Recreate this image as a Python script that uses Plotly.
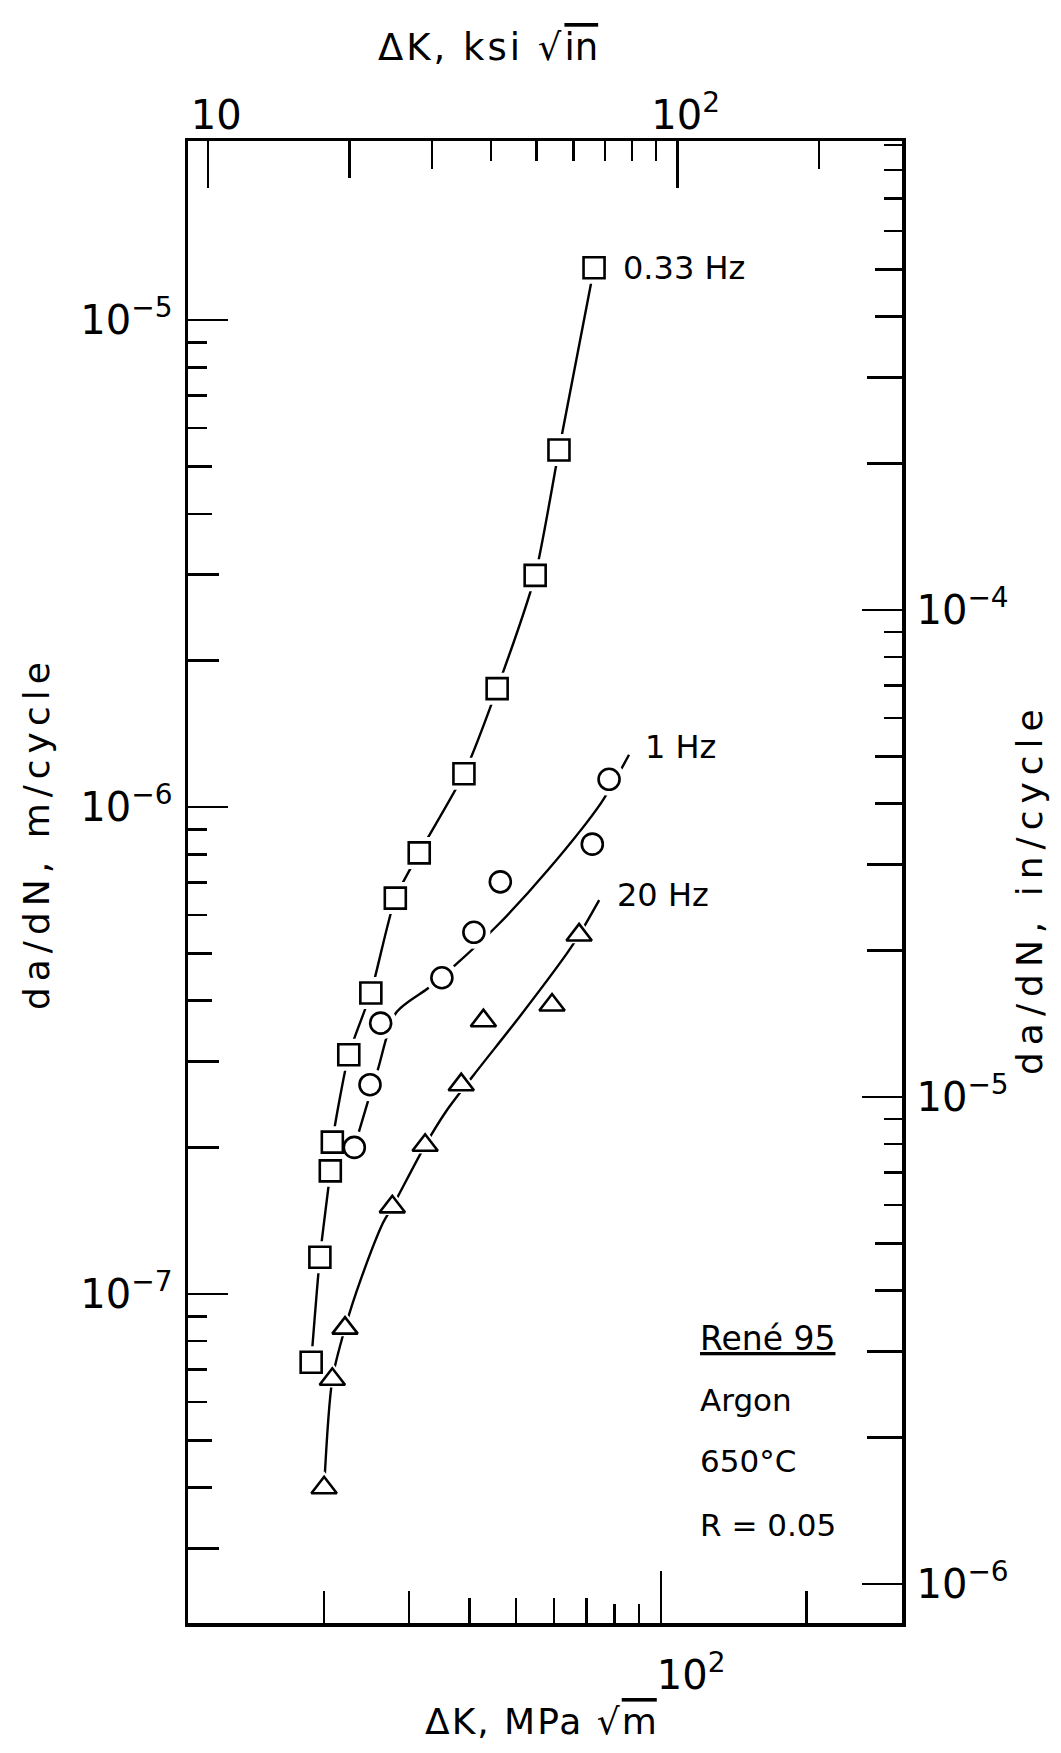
import numpy as np
import plotly.graph_objects as go

# ---------------- data ----------------
# 0.33 Hz, squares  (Delta K in MPa*sqrt(m), da/dN in m/cycle)
dk_033 = [18.8, 19.6, 20.6, 20.8, 22.5, 25.0, 28.1, 31.5, 39.0, 45.7, 54.8, 61.4, 72.6]
da_033 = [7.24e-8, 1.19e-7, 1.79e-7, 2.05e-7, 3.10e-7, 4.15e-7, 6.50e-7, 8.05e-7,
          1.17e-6, 1.75e-6, 2.99e-6, 5.41e-6, 1.28e-5]

# 1 Hz, circles
dk_1 = [23.1, 24.9, 26.2, 35.1, 40.9, 46.4, 72.0, 78.0]
da_1 = [2.00e-7, 2.69e-7, 3.60e-7, 4.46e-7, 5.53e-7, 7.02e-7, 8.39e-7, 1.14e-6]
# 1 Hz hand-drawn trend line
fit1_dk = [23.1, 24.7, 25.9, 28.2, 32.9, 37.0, 45.9, 58.3, 75.1, 85.8]
fit1_da = [2.00e-7, 2.50e-7, 2.91e-7, 3.78e-7, 4.25e-7, 4.69e-7, 5.73e-7, 7.43e-7,
           1.02e-6, 1.28e-6]

# 20 Hz, triangles
dk_20 = [20.0, 20.8, 22.1, 27.7, 32.4, 38.5, 42.8, 59.4, 67.6]
da_20 = [4.00e-8, 6.68e-8, 8.51e-8, 1.51e-7, 2.02e-7, 2.69e-7, 3.64e-7, 3.92e-7, 5.46e-7]
# 20 Hz hand-drawn trend line
fit20_dk = [20.0, 20.8, 22.1, 23.9, 26.5, 27.7, 32.4, 35.8, 40.9, 51.2, 64.1, 67.6, 74.4]
fit20_da = [4.00e-8, 6.68e-8, 8.51e-8, 1.08e-7, 1.40e-7, 1.51e-7, 2.02e-7, 2.37e-7,
            2.82e-7, 3.74e-7, 5.04e-7, 5.46e-7, 6.44e-7]

series_labels = ["0.33 Hz", "1 Hz", "20 Hz"]
info_lines = ["René 95", "Argon", "650°C", "R = 0.05"]

# axis ranges (log10) and ticks
X_RANGE = [np.log10(10.44), np.log10(316.0)]        # MPa sqrt(m)
X2_RANGE = [0.957, 2.478]                           # ksi sqrt(in)
Y_RANGE = [-7.6756, -4.6324]                        # m/cycle
IN_PER_M = 39.37
Y2_RANGE = [r + np.log10(IN_PER_M) for r in Y_RANGE]  # in/cycle

bottom_major = [100]
bottom_major_text = ["10<sup>2</sup>"]
bottom_minor_a = [20, 30, 200]
bottom_minor_b = [40, 50, 60, 70]
bottom_minor_c = [80, 90]

top_major = [10, 100]
top_major_text = ["10", "10<sup>2</sup>"]
top_minor_a = [20]
top_minor_b = [30, 200]
top_minor_c = [40, 50, 60, 70, 80, 90]

left_major = [1e-7, 1e-6, 1e-5]
left_major_text = ["10<sup>−7</sup>", "10<sup>−6</sup>", "10<sup>−5</sup>"]
left_decades = [1e-8, 1e-7, 1e-6]
right_major = [1e-6, 1e-5, 1e-4]
right_major_text = ["10<sup>−6</sup>", "10<sup>−5</sup>", "10<sup>−4</sup>"]
right_decades = [1e-6, 1e-5, 1e-4]


def mult(decades, ms):
    return [m * d for d in decades for m in ms]


FONT = "DejaVu Sans"
BLACK = "black"
LW = 2.4

fig = go.Figure()

# trend lines
fig.add_trace(go.Scatter(x=dk_033, y=da_033, mode="lines",
                         line=dict(color=BLACK, width=LW, shape="spline", smoothing=0.6),
                         hoverinfo="skip", showlegend=False))
fig.add_trace(go.Scatter(x=fit1_dk, y=fit1_da, mode="lines",
                         line=dict(color=BLACK, width=LW, shape="spline", smoothing=0.8),
                         hoverinfo="skip", showlegend=False))
fig.add_trace(go.Scatter(x=fit20_dk, y=fit20_da, mode="lines",
                         line=dict(color=BLACK, width=LW, shape="spline", smoothing=0.8),
                         hoverinfo="skip", showlegend=False))

# white halos (gaps in the line around symbols)
for xs, ys, sym, sz in [(dk_033, da_033, "square", 32),
                        (dk_1, da_1, "circle", 33),
                        (dk_20, da_20, "triangle-up", 33)]:
    fig.add_trace(go.Scatter(x=xs, y=ys, mode="markers",
                             marker=dict(symbol=sym, size=sz, color="white", line=dict(width=0)),
                             hoverinfo="skip", showlegend=False))

# symbols
fig.add_trace(go.Scatter(x=dk_033, y=da_033, mode="markers", name=series_labels[0],
                         marker=dict(symbol="square", size=21, color="white",
                                     line=dict(color=BLACK, width=2.6)), showlegend=False))
fig.add_trace(go.Scatter(x=dk_1, y=da_1, mode="markers", name=series_labels[1],
                         marker=dict(symbol="circle", size=21, color="white",
                                     line=dict(color=BLACK, width=2.6)), showlegend=False))
fig.add_trace(go.Scatter(x=dk_20, y=da_20, mode="markers", name=series_labels[2],
                         marker=dict(symbol="triangle-up", size=22, color="white",
                                     line=dict(color=BLACK, width=2.6)), showlegend=False))

# dummy traces so that the extra tick axes exist
for xa, ya in [("x2", "y2"), ("x3", "y3"), ("x4", "y4")]:
    fig.add_trace(go.Scatter(x=[None], y=[None], xaxis=xa, yaxis=ya, mode="markers",
                             hoverinfo="skip", showlegend=False))

tick_common = dict(ticks="inside", tickwidth=2.6, tickcolor=BLACK, showgrid=False,
                   zeroline=False, type="log", automargin=False, fixedrange=True)


def minor(vals, ln):
    return dict(tickmode="array", tickvals=vals, ticks="inside", ticklen=ln,
                tickwidth=2.6, tickcolor=BLACK, showgrid=False)


label_font = dict(family=FONT, size=40, color=BLACK)

fig.update_layout(
    width=1061, height=1753, autosize=False,
    margin=dict(l=188, r=159, t=141, b=130, pad=0),
    paper_bgcolor="white", plot_bgcolor="white",
    font=dict(family=FONT, color=BLACK),
    hovermode=False,
    xaxis=dict(**tick_common, range=X_RANGE, side="bottom", showline=True, linewidth=3.5,
               linecolor=BLACK, tickmode="array", tickvals=bottom_major,
               ticktext=bottom_major_text, ticklen=52, tickfont=label_font,
               ticklabelstandoff=14, ticklabelshift=30, minor=minor(bottom_minor_a, 32)),
    xaxis3=dict(**tick_common, range=X_RANGE, side="bottom", overlaying="x", anchor="y",
                showline=False, tickmode="array", tickvals=bottom_minor_b, ticklen=25,
                showticklabels=False, minor=minor(bottom_minor_c, 19)),
    xaxis2=dict(**tick_common, range=X2_RANGE, side="top", overlaying="x", anchor="y",
                showline=True, linewidth=3.5, linecolor=BLACK, tickmode="array",
                tickvals=top_major, ticktext=top_major_text, ticklen=47, tickfont=label_font,
                ticklabelstandoff=-7, ticklabelshift=8, minor=minor(top_minor_a, 37)),
    xaxis4=dict(**tick_common, range=X2_RANGE, side="top", overlaying="x", anchor="y",
                showline=False, tickmode="array", tickvals=top_minor_b, ticklen=28,
                showticklabels=False, minor=minor(top_minor_c, 20)),
    yaxis=dict(**tick_common, range=Y_RANGE, side="left", showline=True, linewidth=3.5,
               linecolor=BLACK, tickmode="array", tickvals=left_major,
               ticktext=left_major_text, ticklen=40, tickfont=label_font,
               ticklabelstandoff=4, minor=minor(mult(left_decades, [2, 3]), 31)),
    yaxis3=dict(**tick_common, range=Y_RANGE, side="left", overlaying="y", anchor="x",
                showline=False, tickmode="array", tickvals=mult(left_decades, [4, 5]),
                ticklen=24, showticklabels=False,
                minor=minor(mult(left_decades, [6, 7, 8, 9]), 19)),
    yaxis2=dict(**tick_common, range=Y2_RANGE, side="right", overlaying="y", anchor="x",
                showline=True, linewidth=3.5, linecolor=BLACK, tickmode="array",
                tickvals=right_major, ticktext=right_major_text, ticklen=40,
                tickfont=label_font, ticklabelstandoff=3,
                minor=minor(mult(right_decades, [2, 3]), 35)),
    yaxis4=dict(**tick_common, range=Y2_RANGE, side="right", overlaying="y", anchor="x",
                showline=False, tickmode="array", tickvals=mult(right_decades, [4, 5]),
                ticklen=27, showticklabels=False,
                minor=minor(mult(right_decades, [6, 7, 8, 9]), 18)),
)


def spaced(s, px):
    return '<span style="letter-spacing:%dpx">%s</span>' % (px, s)


title_font = dict(family=FONT, size=37, color=BLACK)
side_font = dict(family=FONT, size=36, color=BLACK)
ann = [
    dict(text=spaced('ΔK, ksi √', 3) + '<span style="text-decoration:overline">in</span>',
         x=0.420, y=1.0628, font=title_font),
    dict(text=spaced('ΔK, MPa √', 2) + '<span style="text-decoration:overline">m</span>',
         x=0.4944, y=-0.0668, font=dict(family=FONT, size=36, color=BLACK)),
    dict(text=spaced("da/dN, m/cycle", 6), x=-0.2129, y=0.533, textangle=-90,
         font=side_font),
    dict(text=spaced("da/dN, in/cycle", 7), x=1.1793, y=0.4953, textangle=-90,
         font=side_font),
]
for a in ann:
    fig.add_annotation(xref="paper", yref="paper", showarrow=False,
                       xanchor="center", yanchor="middle", **a)

curve_font = dict(family=FONT, size=32, color=BLACK)
for txt, px, py in [(series_labels[0], 0.607, 0.9143),
                    (series_labels[1], 0.637, 0.591),
                    (series_labels[2], 0.598, 0.491)]:
    fig.add_annotation(xref="paper", yref="paper", x=px, y=py, text=txt, showarrow=False,
                       xanchor="left", yanchor="middle", font=curve_font)

info_y = [0.1923, 0.1505, 0.1093, 0.0661]
for i, (txt, py) in enumerate(zip(info_lines, info_y)):
    t = '<span style="text-decoration:underline">' + txt + '</span>' if i == 0 else txt
    fig.add_annotation(xref="paper", yref="paper", x=0.7143, y=py, text=t, showarrow=False,
                       xanchor="left", yanchor="middle",
                       font=dict(family=FONT, size=33 if i == 0 else 31, color=BLACK))

fig.write_html("out.html",
               config={"displayModeBar": False, "staticPlot": True},
               post_script="document.body.style.margin='0px';"
                           "document.body.style.overflow='hidden';")
